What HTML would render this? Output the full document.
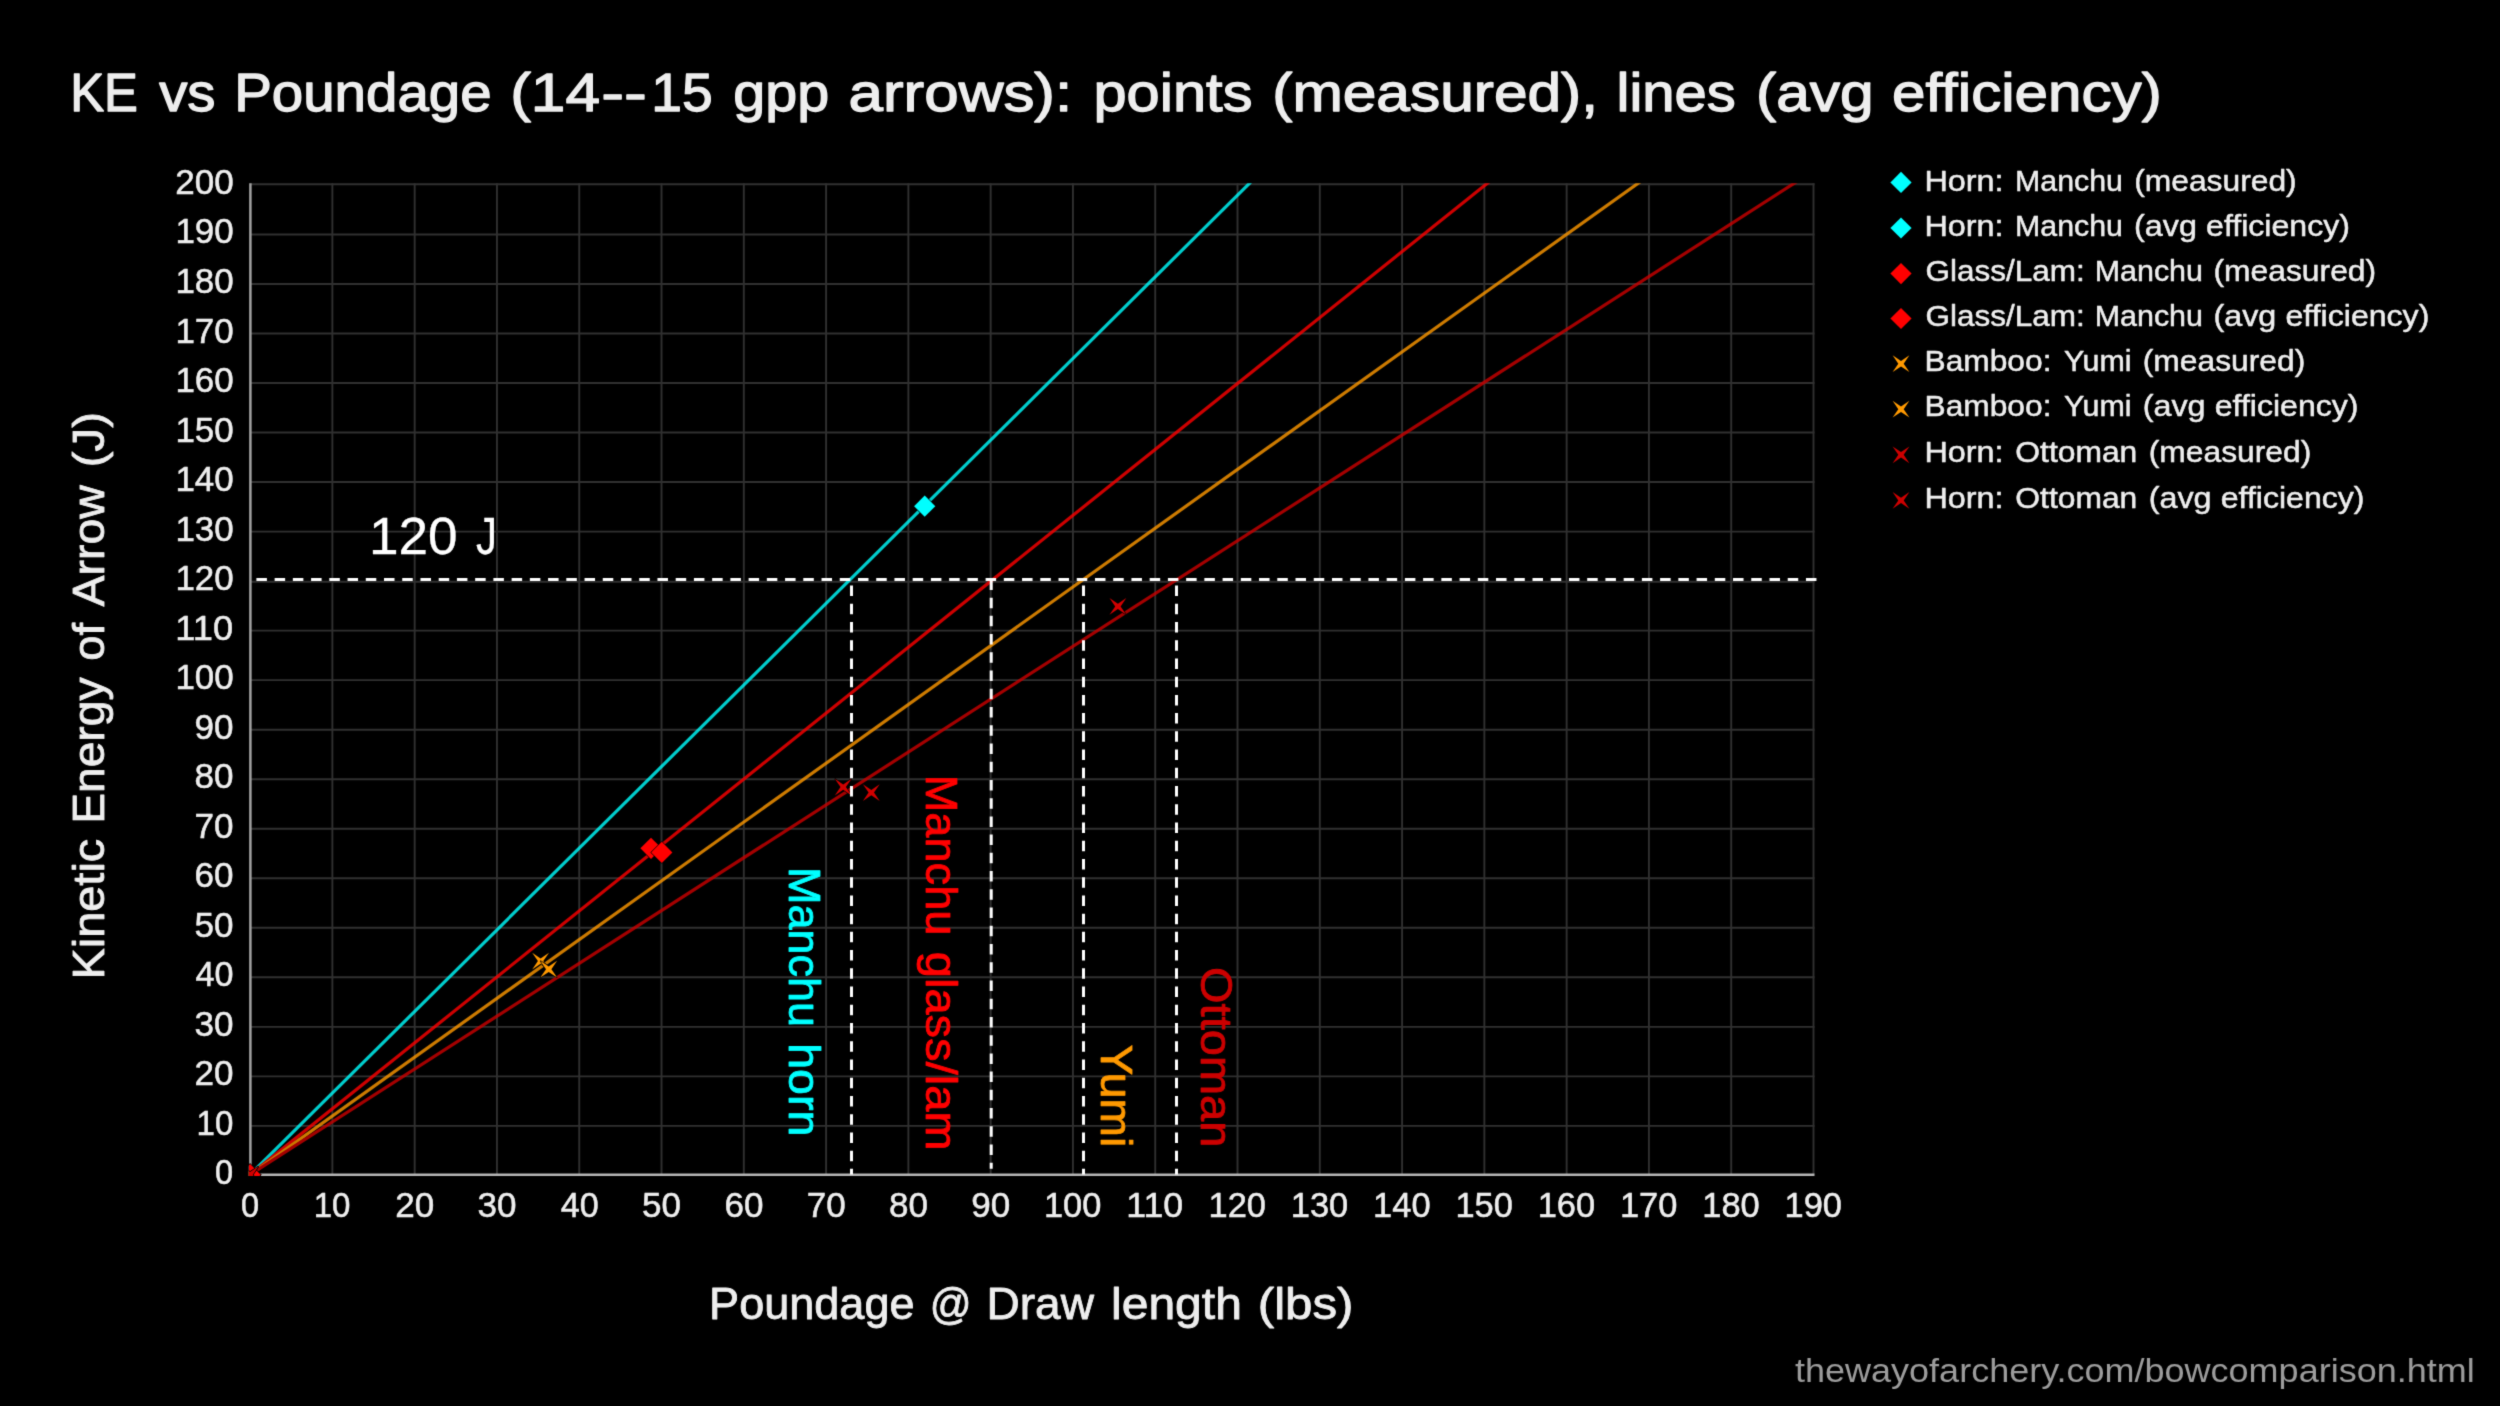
<!DOCTYPE html>
<html><head><meta charset="utf-8"><title>KE vs Poundage</title>
<style>html,body{margin:0;padding:0;background:#000}svg{display:block}text{font-family:"Liberation Sans",sans-serif}</style>
</head><body>
<svg width="2500" height="1406" viewBox="0 0 2500 1406">
<defs><clipPath id="plot"><rect x="248.90" y="183.20" width="1565.60" height="992.50"/></clipPath>
<path id="dia" d="M0 -10.6L10.6 0L0 10.6L-10.6 0Z" stroke="#000" stroke-width="1.2" paint-order="stroke"/>
<path id="star" d="M-8.4 -8.4L0 -2.7L8.4 -8.4L2.7 0L8.4 8.4L0 2.7L-8.4 8.4L-2.7 0Z" stroke="#000" stroke-width="1.2" paint-order="stroke"/>
<clipPath id="plotm"><rect x="248.80" y="183.20" width="1565.70" height="992.80"/></clipPath>
<filter id="soft" x="0" y="0" width="2500" height="1406" filterUnits="userSpaceOnUse" color-interpolation-filters="sRGB"><feConvolveMatrix order="3" divisor="1" edgeMode="duplicate" preserveAlpha="false" kernelMatrix="0.01690 0.09620 0.01690 0.09620 0.54760 0.09620 0.01690 0.09620 0.01690"/></filter>
</defs>
<g filter="url(#soft)">
<rect width="2500" height="1406" fill="#000"/>
<g stroke="#303030" stroke-width="1.9" fill="none">
<line x1="332.38" y1="183.20" x2="332.38" y2="1174.70"/>
<line x1="414.67" y1="183.20" x2="414.67" y2="1174.70"/>
<line x1="496.95" y1="183.20" x2="496.95" y2="1174.70"/>
<line x1="579.24" y1="183.20" x2="579.24" y2="1174.70"/>
<line x1="661.52" y1="183.20" x2="661.52" y2="1174.70"/>
<line x1="743.81" y1="183.20" x2="743.81" y2="1174.70"/>
<line x1="826.09" y1="183.20" x2="826.09" y2="1174.70"/>
<line x1="908.37" y1="183.20" x2="908.37" y2="1174.70"/>
<line x1="990.66" y1="183.20" x2="990.66" y2="1174.70"/>
<line x1="1072.94" y1="183.20" x2="1072.94" y2="1174.70"/>
<line x1="1155.23" y1="183.20" x2="1155.23" y2="1174.70"/>
<line x1="1237.51" y1="183.20" x2="1237.51" y2="1174.70"/>
<line x1="1319.79" y1="183.20" x2="1319.79" y2="1174.70"/>
<line x1="1402.08" y1="183.20" x2="1402.08" y2="1174.70"/>
<line x1="1484.36" y1="183.20" x2="1484.36" y2="1174.70"/>
<line x1="1566.65" y1="183.20" x2="1566.65" y2="1174.70"/>
<line x1="1648.93" y1="183.20" x2="1648.93" y2="1174.70"/>
<line x1="1731.22" y1="183.20" x2="1731.22" y2="1174.70"/>
<line x1="1813.50" y1="183.20" x2="1813.50" y2="1174.70"/>
<line x1="250.10" y1="1125.88" x2="1814.50" y2="1125.88"/>
<line x1="250.10" y1="1076.35" x2="1814.50" y2="1076.35"/>
<line x1="250.10" y1="1026.83" x2="1814.50" y2="1026.83"/>
<line x1="250.10" y1="977.30" x2="1814.50" y2="977.30"/>
<line x1="250.10" y1="927.78" x2="1814.50" y2="927.78"/>
<line x1="250.10" y1="878.25" x2="1814.50" y2="878.25"/>
<line x1="250.10" y1="828.73" x2="1814.50" y2="828.73"/>
<line x1="250.10" y1="779.20" x2="1814.50" y2="779.20"/>
<line x1="250.10" y1="729.68" x2="1814.50" y2="729.68"/>
<line x1="250.10" y1="680.15" x2="1814.50" y2="680.15"/>
<line x1="250.10" y1="630.63" x2="1814.50" y2="630.63"/>
<line x1="250.10" y1="581.70" x2="1814.50" y2="581.70"/>
<line x1="250.10" y1="531.58" x2="1814.50" y2="531.58"/>
<line x1="250.10" y1="482.05" x2="1814.50" y2="482.05"/>
<line x1="250.10" y1="432.53" x2="1814.50" y2="432.53"/>
<line x1="250.10" y1="383.00" x2="1814.50" y2="383.00"/>
<line x1="250.10" y1="333.48" x2="1814.50" y2="333.48"/>
<line x1="250.10" y1="283.95" x2="1814.50" y2="283.95"/>
<line x1="250.10" y1="234.43" x2="1814.50" y2="234.43"/>
<line x1="250.10" y1="184.20" x2="1814.50" y2="184.20"/>
</g>
<line x1="250.40" y1="183.20" x2="250.40" y2="1175.70" stroke="#a2a2a2" stroke-width="2.5"/>
<line x1="249.10" y1="1174.70" x2="1814.50" y2="1174.70" stroke="#b6b6b6" stroke-width="2.4"/>
<g clip-path="url(#plot)" fill="none" stroke-width="3.2" opacity="0.8">
<line x1="250.10" y1="1174.70" x2="1448.30" y2="-13.90" stroke="#00ffff"/>
<line x1="250.10" y1="1174.70" x2="1733.42" y2="-13.90" stroke="#ff0000"/>
<line x1="250.10" y1="1174.70" x2="1914.14" y2="-13.90" stroke="#ff9900"/>
<line x1="250.10" y1="1174.70" x2="2101.34" y2="-13.90" stroke="#cc0000"/>
</g>
<g clip-path="url(#plotm)">
<use href="#dia" x="250.1" y="1174.7" fill="#00ffff"/>
<use href="#dia" x="924.7" y="506.2" fill="#00ffff"/>
<use href="#dia" x="250.1" y="1174.7" fill="#ff0000"/>
<use href="#dia" x="651.0" y="848.3" fill="#ff0000"/>
<use href="#dia" x="661.8" y="852.4" fill="#ff0000"/>
<use href="#star" x="250.1" y="1174.7" fill="#ff9900"/>
<use href="#star" x="540.6" y="961.1" fill="#ff9900"/>
<use href="#star" x="548.7" y="969.2" fill="#ff9900"/>
<use href="#star" x="250.1" y="1174.7" fill="#d00000"/>
<use href="#star" x="843.2" y="787.1" fill="#d00000"/>
<use href="#star" x="871.3" y="792.6" fill="#d00000"/>
<use href="#star" x="1117.9" y="606.4" fill="#d00000"/>
</g>
<g stroke="#fff" stroke-width="3" stroke-dasharray="10.5 7.73" fill="none">
<line x1="256.4" y1="579.5" x2="1816.5" y2="579.5"/>
<line x1="851.5" y1="585.5" x2="851.5" y2="1174.4"/>
<line x1="991.2" y1="579.4" x2="991.2" y2="1168.8"/>
<line x1="1083.5" y1="585.5" x2="1083.5" y2="1174.4"/>
<line x1="1176.5" y1="585.5" x2="1176.5" y2="1174.4"/>
</g>
<use href="#dia" x="1901" y="182.4" fill="#00ffff"/>
<use href="#dia" x="1901" y="228.0" fill="#00ffff"/>
<use href="#dia" x="1901" y="273.6" fill="#ff0000"/>
<use href="#dia" x="1901" y="318.5" fill="#ff0000"/>
<use href="#star" x="1901" y="363.7" fill="#ff9900"/>
<use href="#star" x="1901" y="409.2" fill="#ff9900"/>
<use href="#star" x="1901" y="454.8" fill="#cc0000"/>
<use href="#star" x="1901" y="500.4" fill="#cc0000"/>
<text transform="translate(70.24 111.25) scale(0.9388 1)" font-size="54.06" fill="#eeeeee" stroke="#eeeeee" stroke-width="1.3" stroke-linejoin="round">KE</text>
<text transform="translate(159.20 111.25) scale(1.0415 1)" font-size="54.06" fill="#eeeeee" stroke="#eeeeee" stroke-width="1.3" stroke-linejoin="round">vs</text>
<text transform="translate(234.22 111.25) scale(1.0440 1)" font-size="54.06" fill="#eeeeee" stroke="#eeeeee" stroke-width="1.3" stroke-linejoin="round">Poundage</text>
<text transform="translate(510.15 111.25) scale(1.1514 1)" font-size="54.06" fill="#eeeeee" stroke="#eeeeee" stroke-width="1.3" stroke-linejoin="round">(14</text>
<text transform="translate(601.26 111.25) scale(1.2688 1)" font-size="54.06" fill="#eeeeee" stroke="#eeeeee" stroke-width="1.3" stroke-linejoin="round">--</text>
<text transform="translate(651.34 111.25) scale(1.0214 1)" font-size="54.06" fill="#eeeeee" stroke="#eeeeee" stroke-width="1.3" stroke-linejoin="round">15</text>
<text transform="translate(733.34 111.25) scale(1.0636 1)" font-size="54.06" fill="#eeeeee" stroke="#eeeeee" stroke-width="1.3" stroke-linejoin="round">gpp</text>
<text transform="translate(848.51 111.25) scale(1.1460 1)" font-size="54.06" fill="#eeeeee" stroke="#eeeeee" stroke-width="1.3" stroke-linejoin="round">arrows):</text>
<text transform="translate(1093.49 111.25) scale(1.1021 1)" font-size="54.06" fill="#eeeeee" stroke="#eeeeee" stroke-width="1.3" stroke-linejoin="round">points</text>
<text transform="translate(1272.25 111.25) scale(1.1183 1)" font-size="54.06" fill="#eeeeee" stroke="#eeeeee" stroke-width="1.3" stroke-linejoin="round">(measured),</text>
<text transform="translate(1616.58 111.25) scale(1.0729 1)" font-size="54.06" fill="#eeeeee" stroke="#eeeeee" stroke-width="1.3" stroke-linejoin="round">lines</text>
<text transform="translate(1756.04 111.25) scale(1.1192 1)" font-size="54.06" fill="#eeeeee" stroke="#eeeeee" stroke-width="1.3" stroke-linejoin="round">(avg</text>
<text transform="translate(1891.97 111.25) scale(1.1134 1)" font-size="54.06" fill="#eeeeee" stroke="#eeeeee" stroke-width="1.3" stroke-linejoin="round">efficiency)</text>
<text transform="translate(709.09 1318.80) scale(1.0361 1)" font-size="43.48" fill="#eeeeee" stroke="#eeeeee" stroke-width="0.8" stroke-linejoin="round">Poundage</text>
<text transform="translate(929.76 1318.80) scale(0.9474 1)" font-size="43.48" fill="#eeeeee" stroke="#eeeeee" stroke-width="0.8" stroke-linejoin="round">@</text>
<text transform="translate(986.52 1318.80) scale(1.0586 1)" font-size="43.48" fill="#eeeeee" stroke="#eeeeee" stroke-width="0.8" stroke-linejoin="round">Draw</text>
<text transform="translate(1110.99 1318.80) scale(1.1053 1)" font-size="43.48" fill="#eeeeee" stroke="#eeeeee" stroke-width="0.8" stroke-linejoin="round">length</text>
<text transform="translate(1257.73 1318.80) scale(1.1333 1)" font-size="43.48" fill="#eeeeee" stroke="#eeeeee" stroke-width="0.8" stroke-linejoin="round">(lbs)</text>
<text transform="translate(103.80 979.47) rotate(-90) scale(1.0577 1)" font-size="44.35" fill="#eeeeee" stroke="#eeeeee" stroke-width="0.8" stroke-linejoin="round">Kinetic</text>
<text transform="translate(103.80 823.82) rotate(-90) scale(1.0413 1)" font-size="44.35" fill="#eeeeee" stroke="#eeeeee" stroke-width="0.8" stroke-linejoin="round">Energy</text>
<text transform="translate(103.80 660.82) rotate(-90) scale(1.0243 1)" font-size="44.35" fill="#eeeeee" stroke="#eeeeee" stroke-width="0.8" stroke-linejoin="round">of</text>
<text transform="translate(103.80 606.50) rotate(-90) scale(1.0483 1)" font-size="44.35" fill="#eeeeee" stroke="#eeeeee" stroke-width="0.8" stroke-linejoin="round">Arrow</text>
<text transform="translate(103.80 467.23) rotate(-90) scale(1.0667 1)" font-size="44.35" fill="#eeeeee" stroke="#eeeeee" stroke-width="0.8" stroke-linejoin="round">(J)</text>
<text transform="translate(1795.00 1381.80) scale(1.1002 1)" font-size="32.74" fill="#9c9c9c">thewayofarchery.com/bowcomparison.html</text>
<text transform="translate(368.89 553.65) scale(1.0370 1)" font-size="51.28" fill="#ffffff" stroke="#ffffff" stroke-width="0.3" stroke-linejoin="round">120</text>
<text transform="translate(475.98 553.65) scale(0.8190 1)" font-size="51.28" fill="#ffffff" stroke="#ffffff" stroke-width="0.3" stroke-linejoin="round">J</text>
<text transform="translate(789.10 867.06) rotate(90) scale(1.0132 1)" font-size="44.35" fill="#00ffff" stroke="#00ffff" stroke-width="0.8" stroke-linejoin="round">Manchu</text>
<text transform="translate(789.10 1043.20) rotate(90) scale(1.0506 1)" font-size="44.35" fill="#00ffff" stroke="#00ffff" stroke-width="0.8" stroke-linejoin="round">horn</text>
<text transform="translate(926.20 774.74) rotate(90) scale(1.0184 1)" font-size="44.35" fill="#ff0000" stroke="#ff0000" stroke-width="0.8" stroke-linejoin="round">Manchu</text>
<text transform="translate(926.20 951.74) rotate(90) scale(1.0620 1)" font-size="44.35" fill="#ff0000" stroke="#ff0000" stroke-width="0.8" stroke-linejoin="round">glass/lam</text>
<text transform="translate(1100.50 1044.45) rotate(90) scale(1.0495 1)" font-size="44.06" fill="#ff9900" stroke="#ff9900" stroke-width="0.8" stroke-linejoin="round">Yumi</text>
<text transform="translate(1201.00 967.04) rotate(90) scale(1.0605 1)" font-size="44.35" fill="#cc0000" stroke="#cc0000" stroke-width="0.8" stroke-linejoin="round">Ottoman</text>
<text transform="translate(1924.42 191.05) scale(1.0899 1)" font-size="29.71" fill="#eeeeee" stroke="#eeeeee" stroke-width="0.5" stroke-linejoin="round">Horn:</text>
<text transform="translate(2015.06 191.05) scale(1.0206 1)" font-size="29.71" fill="#eeeeee" stroke="#eeeeee" stroke-width="0.5" stroke-linejoin="round">Manchu</text>
<text transform="translate(2134.13 191.05) scale(1.0707 1)" font-size="29.71" fill="#eeeeee" stroke="#eeeeee" stroke-width="0.5" stroke-linejoin="round">(measured)</text>
<text transform="translate(1924.42 236.05) scale(1.0899 1)" font-size="29.71" fill="#eeeeee" stroke="#eeeeee" stroke-width="0.5" stroke-linejoin="round">Horn:</text>
<text transform="translate(2015.06 236.05) scale(1.0206 1)" font-size="29.71" fill="#eeeeee" stroke="#eeeeee" stroke-width="0.5" stroke-linejoin="round">Manchu</text>
<text transform="translate(2134.11 236.05) scale(1.0873 1)" font-size="29.71" fill="#eeeeee" stroke="#eeeeee" stroke-width="0.5" stroke-linejoin="round">(avg</text>
<text transform="translate(2206.12 236.05) scale(1.0802 1)" font-size="29.71" fill="#eeeeee" stroke="#eeeeee" stroke-width="0.5" stroke-linejoin="round">efficiency)</text>
<text transform="translate(1925.54 280.75) scale(1.0599 1)" font-size="29.71" fill="#eeeeee" stroke="#eeeeee" stroke-width="0.5" stroke-linejoin="round">Glass/Lam:</text>
<text transform="translate(2094.75 280.75) scale(1.0235 1)" font-size="29.71" fill="#eeeeee" stroke="#eeeeee" stroke-width="0.5" stroke-linejoin="round">Manchu</text>
<text transform="translate(2213.53 280.75) scale(1.0707 1)" font-size="29.71" fill="#eeeeee" stroke="#eeeeee" stroke-width="0.5" stroke-linejoin="round">(measured)</text>
<text transform="translate(1925.54 326.25) scale(1.0599 1)" font-size="29.71" fill="#eeeeee" stroke="#eeeeee" stroke-width="0.5" stroke-linejoin="round">Glass/Lam:</text>
<text transform="translate(2094.75 326.25) scale(1.0235 1)" font-size="29.71" fill="#eeeeee" stroke="#eeeeee" stroke-width="0.5" stroke-linejoin="round">Manchu</text>
<text transform="translate(2213.51 326.25) scale(1.0873 1)" font-size="29.71" fill="#eeeeee" stroke="#eeeeee" stroke-width="0.5" stroke-linejoin="round">(avg</text>
<text transform="translate(2285.52 326.25) scale(1.0802 1)" font-size="29.71" fill="#eeeeee" stroke="#eeeeee" stroke-width="0.5" stroke-linejoin="round">efficiency)</text>
<text transform="translate(1924.46 371.25) scale(1.0687 1)" font-size="29.71" fill="#eeeeee" stroke="#eeeeee" stroke-width="0.5" stroke-linejoin="round">Bamboo:</text>
<text transform="translate(2063.90 371.25) scale(1.0231 1)" font-size="29.71" fill="#eeeeee" stroke="#eeeeee" stroke-width="0.5" stroke-linejoin="round">Yumi</text>
<text transform="translate(2142.73 371.25) scale(1.0707 1)" font-size="29.71" fill="#eeeeee" stroke="#eeeeee" stroke-width="0.5" stroke-linejoin="round">(measured)</text>
<text transform="translate(1924.46 416.15) scale(1.0687 1)" font-size="29.71" fill="#eeeeee" stroke="#eeeeee" stroke-width="0.5" stroke-linejoin="round">Bamboo:</text>
<text transform="translate(2063.90 416.15) scale(1.0231 1)" font-size="29.71" fill="#eeeeee" stroke="#eeeeee" stroke-width="0.5" stroke-linejoin="round">Yumi</text>
<text transform="translate(2142.71 416.15) scale(1.0873 1)" font-size="29.71" fill="#eeeeee" stroke="#eeeeee" stroke-width="0.5" stroke-linejoin="round">(avg</text>
<text transform="translate(2214.72 416.15) scale(1.0802 1)" font-size="29.71" fill="#eeeeee" stroke="#eeeeee" stroke-width="0.5" stroke-linejoin="round">efficiency)</text>
<text transform="translate(1924.42 462.45) scale(1.0899 1)" font-size="29.71" fill="#eeeeee" stroke="#eeeeee" stroke-width="0.5" stroke-linejoin="round">Horn:</text>
<text transform="translate(2015.33 462.45) scale(1.0714 1)" font-size="29.71" fill="#eeeeee" stroke="#eeeeee" stroke-width="0.5" stroke-linejoin="round">Ottoman</text>
<text transform="translate(2148.73 462.45) scale(1.0707 1)" font-size="29.71" fill="#eeeeee" stroke="#eeeeee" stroke-width="0.5" stroke-linejoin="round">(measured)</text>
<text transform="translate(1924.42 508.05) scale(1.0899 1)" font-size="29.71" fill="#eeeeee" stroke="#eeeeee" stroke-width="0.5" stroke-linejoin="round">Horn:</text>
<text transform="translate(2015.33 508.05) scale(1.0714 1)" font-size="29.71" fill="#eeeeee" stroke="#eeeeee" stroke-width="0.5" stroke-linejoin="round">Ottoman</text>
<text transform="translate(2148.71 508.05) scale(1.0873 1)" font-size="29.71" fill="#eeeeee" stroke="#eeeeee" stroke-width="0.5" stroke-linejoin="round">(avg</text>
<text transform="translate(2220.72 508.05) scale(1.0802 1)" font-size="29.71" fill="#eeeeee" stroke="#eeeeee" stroke-width="0.5" stroke-linejoin="round">efficiency)</text>
<text transform="translate(240.91 1217.15) scale(0.9389 1)" font-size="34.7" fill="#eeeeee" stroke="#eeeeee" stroke-width="0.5" stroke-linejoin="round">0</text>
<text transform="translate(313.63 1217.15) scale(0.9528 1)" font-size="34.7" fill="#eeeeee" stroke="#eeeeee" stroke-width="0.5" stroke-linejoin="round">10</text>
<text transform="translate(395.26 1217.15) scale(1.0108 1)" font-size="34.7" fill="#eeeeee" stroke="#eeeeee" stroke-width="0.5" stroke-linejoin="round">20</text>
<text transform="translate(477.54 1217.15) scale(1.0108 1)" font-size="34.7" fill="#eeeeee" stroke="#eeeeee" stroke-width="0.5" stroke-linejoin="round">30</text>
<text transform="translate(560.84 1217.15) scale(0.9842 1)" font-size="34.7" fill="#eeeeee" stroke="#eeeeee" stroke-width="0.5" stroke-linejoin="round">40</text>
<text transform="translate(642.11 1217.15) scale(1.0108 1)" font-size="34.7" fill="#eeeeee" stroke="#eeeeee" stroke-width="0.5" stroke-linejoin="round">50</text>
<text transform="translate(724.39 1217.15) scale(1.0108 1)" font-size="34.7" fill="#eeeeee" stroke="#eeeeee" stroke-width="0.5" stroke-linejoin="round">60</text>
<text transform="translate(806.68 1217.15) scale(1.0108 1)" font-size="34.7" fill="#eeeeee" stroke="#eeeeee" stroke-width="0.5" stroke-linejoin="round">70</text>
<text transform="translate(888.96 1217.15) scale(1.0108 1)" font-size="34.7" fill="#eeeeee" stroke="#eeeeee" stroke-width="0.5" stroke-linejoin="round">80</text>
<text transform="translate(971.25 1217.15) scale(1.0108 1)" font-size="34.7" fill="#eeeeee" stroke="#eeeeee" stroke-width="0.5" stroke-linejoin="round">90</text>
<text transform="translate(1043.96 1217.15) scale(0.9927 1)" font-size="34.7" fill="#eeeeee" stroke="#eeeeee" stroke-width="0.5" stroke-linejoin="round">100</text>
<text transform="translate(1126.17 1217.15) scale(1.0302 1)" font-size="34.7" fill="#eeeeee" stroke="#eeeeee" stroke-width="0.5" stroke-linejoin="round">110</text>
<text transform="translate(1208.53 1217.15) scale(0.9927 1)" font-size="34.7" fill="#eeeeee" stroke="#eeeeee" stroke-width="0.5" stroke-linejoin="round">120</text>
<text transform="translate(1290.81 1217.15) scale(0.9927 1)" font-size="34.7" fill="#eeeeee" stroke="#eeeeee" stroke-width="0.5" stroke-linejoin="round">130</text>
<text transform="translate(1373.09 1217.15) scale(0.9927 1)" font-size="34.7" fill="#eeeeee" stroke="#eeeeee" stroke-width="0.5" stroke-linejoin="round">140</text>
<text transform="translate(1455.38 1217.15) scale(0.9927 1)" font-size="34.7" fill="#eeeeee" stroke="#eeeeee" stroke-width="0.5" stroke-linejoin="round">150</text>
<text transform="translate(1537.66 1217.15) scale(0.9927 1)" font-size="34.7" fill="#eeeeee" stroke="#eeeeee" stroke-width="0.5" stroke-linejoin="round">160</text>
<text transform="translate(1619.95 1217.15) scale(0.9927 1)" font-size="34.7" fill="#eeeeee" stroke="#eeeeee" stroke-width="0.5" stroke-linejoin="round">170</text>
<text transform="translate(1702.23 1217.15) scale(0.9927 1)" font-size="34.7" fill="#eeeeee" stroke="#eeeeee" stroke-width="0.5" stroke-linejoin="round">180</text>
<text transform="translate(1784.51 1217.15) scale(0.9927 1)" font-size="34.7" fill="#eeeeee" stroke="#eeeeee" stroke-width="0.5" stroke-linejoin="round">190</text>
<text transform="translate(214.96 1184.45) scale(0.9389 1)" font-size="34.7" fill="#eeeeee" stroke="#eeeeee" stroke-width="0.5" stroke-linejoin="round">0</text>
<text transform="translate(196.59 1134.92) scale(0.9528 1)" font-size="34.7" fill="#eeeeee" stroke="#eeeeee" stroke-width="0.5" stroke-linejoin="round">10</text>
<text transform="translate(194.39 1085.40) scale(1.0108 1)" font-size="34.7" fill="#eeeeee" stroke="#eeeeee" stroke-width="0.5" stroke-linejoin="round">20</text>
<text transform="translate(194.39 1035.88) scale(1.0108 1)" font-size="34.7" fill="#eeeeee" stroke="#eeeeee" stroke-width="0.5" stroke-linejoin="round">30</text>
<text transform="translate(195.40 986.35) scale(0.9842 1)" font-size="34.7" fill="#eeeeee" stroke="#eeeeee" stroke-width="0.5" stroke-linejoin="round">40</text>
<text transform="translate(194.39 936.83) scale(1.0108 1)" font-size="34.7" fill="#eeeeee" stroke="#eeeeee" stroke-width="0.5" stroke-linejoin="round">50</text>
<text transform="translate(194.39 887.30) scale(1.0108 1)" font-size="34.7" fill="#eeeeee" stroke="#eeeeee" stroke-width="0.5" stroke-linejoin="round">60</text>
<text transform="translate(194.39 837.78) scale(1.0108 1)" font-size="34.7" fill="#eeeeee" stroke="#eeeeee" stroke-width="0.5" stroke-linejoin="round">70</text>
<text transform="translate(194.39 788.25) scale(1.0108 1)" font-size="34.7" fill="#eeeeee" stroke="#eeeeee" stroke-width="0.5" stroke-linejoin="round">80</text>
<text transform="translate(194.39 738.73) scale(1.0108 1)" font-size="34.7" fill="#eeeeee" stroke="#eeeeee" stroke-width="0.5" stroke-linejoin="round">90</text>
<text transform="translate(175.39 689.20) scale(1.0073 1)" font-size="34.7" fill="#eeeeee" stroke="#eeeeee" stroke-width="0.5" stroke-linejoin="round">100</text>
<text transform="translate(175.31 639.68) scale(1.0453 1)" font-size="34.7" fill="#eeeeee" stroke="#eeeeee" stroke-width="0.5" stroke-linejoin="round">110</text>
<text transform="translate(175.39 590.15) scale(1.0073 1)" font-size="34.7" fill="#eeeeee" stroke="#eeeeee" stroke-width="0.5" stroke-linejoin="round">120</text>
<text transform="translate(175.39 540.62) scale(1.0073 1)" font-size="34.7" fill="#eeeeee" stroke="#eeeeee" stroke-width="0.5" stroke-linejoin="round">130</text>
<text transform="translate(175.39 491.10) scale(1.0073 1)" font-size="34.7" fill="#eeeeee" stroke="#eeeeee" stroke-width="0.5" stroke-linejoin="round">140</text>
<text transform="translate(175.39 441.58) scale(1.0073 1)" font-size="34.7" fill="#eeeeee" stroke="#eeeeee" stroke-width="0.5" stroke-linejoin="round">150</text>
<text transform="translate(175.39 392.05) scale(1.0073 1)" font-size="34.7" fill="#eeeeee" stroke="#eeeeee" stroke-width="0.5" stroke-linejoin="round">160</text>
<text transform="translate(175.39 342.53) scale(1.0073 1)" font-size="34.7" fill="#eeeeee" stroke="#eeeeee" stroke-width="0.5" stroke-linejoin="round">170</text>
<text transform="translate(175.39 293.00) scale(1.0073 1)" font-size="34.7" fill="#eeeeee" stroke="#eeeeee" stroke-width="0.5" stroke-linejoin="round">180</text>
<text transform="translate(175.39 243.48) scale(1.0073 1)" font-size="34.7" fill="#eeeeee" stroke="#eeeeee" stroke-width="0.5" stroke-linejoin="round">190</text>
<text transform="translate(175.19 193.95) scale(1.0107 1)" font-size="34.7" fill="#eeeeee" stroke="#eeeeee" stroke-width="0.5" stroke-linejoin="round">200</text>
</g>
</svg></body></html>
